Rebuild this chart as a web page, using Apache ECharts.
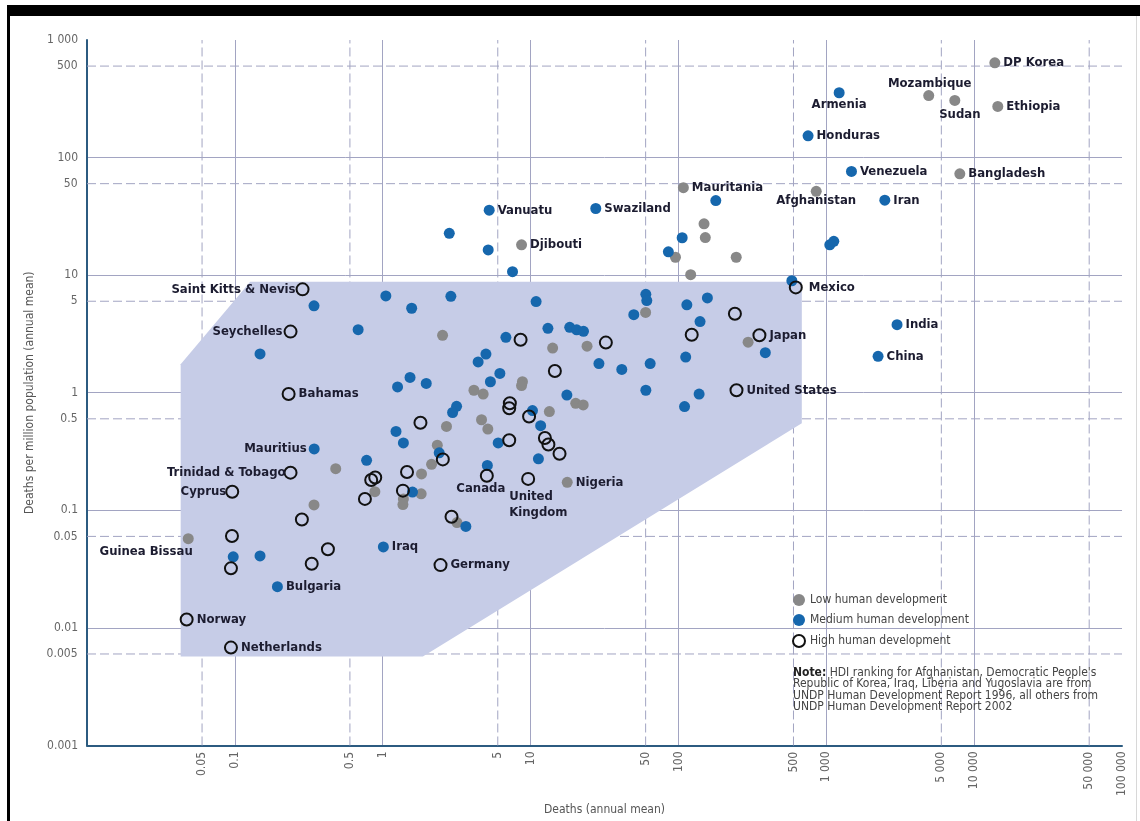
<!DOCTYPE html>
<html>
<head>
<meta charset="utf-8">
<title>Deaths per million population vs deaths</title>
<script src="https://cdn.jsdelivr.net/npm/echarts@6/dist/echarts.min.js"></script>
<style>
  html, body { margin: 0; padding: 0; background: #fff; }
  #chart { width: 1140px; height: 821px; }
  .frame { position: absolute; background: #000; pointer-events: none; }
</style>
</head>
<body>
<div id="chart"></div>
<!-- page frame of the scanned figure -->
<div class="frame" style="left:7px;top:5px;width:1133px;height:11px"></div>
<div class="frame" style="left:7px;top:5px;width:3px;height:816px"></div>
<div class="frame" style="left:1136px;top:16px;width:1px;height:805px;background:#d8d8d8"></div>
<script>
// ---- data: [deaths (annual mean), deaths per million population, label ('' = no label)]
var lowHD = [
  [13800, 640, 'DP Korea'], [4930, 337, 'Mozambique'], [7400, 306, 'Sudan'], [14450, 272, 'Ethiopia'],
  [8000, 72.8, 'Bangladesh'], [855, 51.7, 'Afghanistan'], [108, 55.5, 'Mauritania'], [8.69, 18.1, 'Djibouti'],
  [17.7, 0.173, 'Nigeria'], [0.0484, 0.0574, 'Guinea Bissau'],
  [149, 27.3, ''], [152, 20.9, ''], [95.5, 14.2, ''], [246, 14.2, ''], [121, 10.1, ''],
  [60, 4.82, ''], [296, 2.69, ''], [2.54, 3.08, ''], [14.1, 2.40, ''], [24.1, 2.49, ''],
  [8.81, 1.24, ''], [8.69, 1.15, ''], [4.14, 1.05, ''], [4.78, 0.975, ''], [20.2, 0.813, ''],
  [22.7, 0.788, ''], [13.4, 0.692, ''], [4.66, 0.589, ''], [5.14, 0.491, ''], [2.70, 0.517, ''],
  [2.34, 0.358, ''], [2.14, 0.246, ''], [1.83, 0.204, ''], [0.481, 0.226, ''], [0.885, 0.144, ''],
  [1.82, 0.138, ''], [1.38, 0.125, ''], [1.37, 0.112, ''], [0.343, 0.111, ''], [3.18, 0.0787, '']
];
var mediumHD = [
  [1222, 356, 'Armenia'], [753, 153, 'Honduras'], [1480, 76.2, 'Venezuela'], [2488, 43.4, 'Iran'],
  [3010, 3.79, 'India'], [2240, 2.04, 'China'], [5.25, 35.7, 'Vanuatu'], [27.6, 36.9, 'Swaziland'],
  [0.344, 0.333, 'Mauritius'], [1.01, 0.0488, 'Iraq'], [0.194, 0.0224, 'Bulgaria'],
  [1056, 18.1, ''], [1124, 19.4, ''], [585, 8.96, ''], [2.82, 22.7, ''], [5.17, 16.4, ''], [7.55, 10.7, ''],
  [179, 43.1, ''], [106, 20.8, ''], [85.5, 15.8, ''], [0.343, 5.48, ''], [1.05, 6.66, ''], [0.682, 3.44, ''],
  [0.148, 2.14, ''], [1.57, 5.23, ''], [2.89, 6.61, ''], [10.9, 5.96, ''], [6.81, 2.96, ''], [13.1, 3.53, ''],
  [18.4, 3.60, ''], [20.5, 3.43, ''], [22.8, 3.33, ''], [29.0, 1.77, ''], [41.4, 1.58, ''], [4.99, 2.13, ''],
  [4.42, 1.83, ''], [6.20, 1.46, ''], [5.35, 1.24, ''], [1.26, 1.12, ''], [1.53, 1.35, ''], [1.97, 1.20, ''],
  [17.6, 0.956, ''], [3.16, 0.767, ''], [2.97, 0.679, ''], [10.3, 0.705, ''], [11.7, 0.524, ''], [1.23, 0.469, ''],
  [1.38, 0.374, ''], [6.04, 0.374, ''], [11.3, 0.274, ''], [2.41, 0.308, ''], [5.10, 0.241, ''], [1.59, 0.143, ''],
  [0.778, 0.266, ''], [3.65, 0.0729, ''], [0.0975, 0.0402, ''], [0.148, 0.0409, ''], [60.2, 6.87, ''],
  [61.1, 6.08, ''], [49.9, 4.61, ''], [114, 5.59, ''], [157, 6.40, ''], [140, 4.03, ''], [112, 2.01, ''],
  [64.4, 1.77, ''], [60.2, 1.05, ''], [138, 0.975, ''], [110, 0.762, ''], [387, 2.19, '']
];
var highHD = [
  [622, 7.87, 'Mexico'], [353, 3.08, 'Japan'], [247, 1.05, 'United States'], [5.06, 0.197, 'Canada'],
  [9.63, 0.185, 'United Kingdom'], [2.46, 0.0342, 'Germany'], [0.287, 7.57, 'Saint Kitts & Nevis'],
  [0.238, 3.31, 'Seychelles'], [0.231, 0.975, 'Bahamas'], [0.238, 0.209, 'Trinidad & Tobago'],
  [0.096, 0.144, 'Cyprus'], [0.0472, 0.0118, 'Norway'], [0.0941, 0.0068, 'Netherlands'],
  [241, 4.69, ''], [123, 3.11, ''], [32.3, 2.67, ''], [8.56, 2.82, ''], [14.6, 1.53, ''], [7.24, 0.813, ''],
  [7.17, 0.738, ''], [9.77, 0.628, ''], [1.80, 0.556, ''], [12.5, 0.412, ''], [13.2, 0.363, ''], [15.7, 0.303, ''],
  [7.17, 0.394, ''], [2.55, 0.271, ''], [1.46, 0.212, ''], [1.37, 0.147, ''], [2.92, 0.0881, ''], [0.890, 0.190, ''],
  [0.836, 0.181, ''], [0.758, 0.125, ''], [0.284, 0.0835, ''], [0.0956, 0.0604, ''], [0.426, 0.0466, ''],
  [0.0941, 0.0321, ''], [0.331, 0.0351, '']
];
// shaded envelope, corners in data units
var shadedRegion = [[0.043, 1.75], [0.127, 8.8], [683, 8.8], [683, 0.55], [1.87, 0.0057], [0.043, 0.0057]];

// ---- axes
var xRange = [0.01, 100000];
var yRange = [0.001, 1000];
var xDecadeTicks = [0.1, 1, 10, 100, 1000, 10000, 100000];
var xDecadeLabels = ['0.1', '1', '10', '100', '1 000', '10 000', '100 000'];
var yDecadeTicks = [0.001, 0.01, 0.1, 1, 10, 100, 1000];
var yDecadeLabels = ['0.001', '0.01', '0.1', '1', '10', '100', '1 000'];
// the source draws its dashed "5" rules about 0.22 decade below each decade line (~6 x 10^k)
var xMidTicks = [0.06, 0.6, 6, 60, 600, 6000, 60000];
var xMidLabels = ['0.05', '0.5', '5', '50', '500', '5 000', '50 000'];
var yMidTicks = [0.006, 0.06, 0.6, 6, 60, 600];
var yMidLabels = ['0.005', '0.05', '0.5', '5', '50', '500'];

var seriesNames = ['Low human development', 'Medium human development', 'High human development'];
var noteLines = [
  "{b|Note:} HDI ranking for Afghanistan, Democratic People's",
  'Republic of Korea, Iraq, Liberia and Yugoslavia are from',
  'UNDP Human Development Report 1996, all others from',
  'UNDP Human Development Report 2002'
];

var FONT = "'DejaVu Sans Condensed', 'DejaVu Sans', sans-serif";
var gridColor = '#a2a4c2';
var axisColor = '#2c5b80';
var tickColor = '#666';

// where each country name sits relative to its dot (default: right)
var labelLayout = {
  'Mozambique': { position: 'top', distance: 0, offset: [1, 0] },
  'Sudan': { position: 'bottom', distance: 0, offset: [5, 2] },
  'Armenia': { position: 'bottom', distance: 0 },
  'Afghanistan': { position: 'bottom', distance: 0, offset: [0, -3] },
  'Mexico': { distance: 6 },
  'Canada': { position: 'bottom', offset: [-6, -4] },
  'United Kingdom': { position: 'bottom', align: 'left', offset: [-19, 0], lineHeight: 16, formatter: 'United\nKingdom' },
  'Guinea Bissau': { position: 'left', offset: [13, 13] },
  'Saint Kitts & Nevis': { position: 'left', distance: 0 },
  'Seychelles': { position: 'left', distance: 1 },
  'Mauritius': { position: 'left', distance: 2 },
  'Trinidad & Tobago': { position: 'left', distance: -2 },
  'Cyprus': { position: 'left', distance: -1 }
};

function tickText(values, labels) {
  return function (v) {
    for (var i = 0; i < values.length; i++) {
      if (Math.abs(values[i] - v) <= values[i] * 1e-6) return labels[i];
    }
    return '';
  };
}

function toItems(rows) {
  return rows.map(function (r) {
    var item = { value: [r[0], r[1]], name: r[2] };
    if (r[2]) {
      item.label = Object.assign({
        show: true, position: 'right', distance: 3, formatter: '{b}',
        color: '#1c1c30', fontSize: 13, fontWeight: 'bold', fontFamily: FONT
      }, labelLayout[r[2]] || {});
    }
    return item;
  });
}

var myChart = echarts.init(document.getElementById('chart'));

var series = [];

// dashed "5" rules
xMidTicks.forEach(function (v) {
  series.push({
    type: 'line', data: [[v, yRange[0]], [v, yRange[1]]], symbol: 'none', silent: true, z: 1,
    lineStyle: { color: gridColor, width: 1, type: [9, 4] }, animation: false
  });
});
yMidTicks.forEach(function (v) {
  series.push({
    type: 'line', data: [[xRange[0], v], [xRange[1], v]], symbol: 'none', silent: true, z: 1,
    lineStyle: { color: gridColor, width: 1, type: [9, 4] }, animation: false
  });
});

// tick labels for the "5" rules
series.push({
  type: 'scatter', silent: true, clip: false, z: 1, symbolSize: 1,
  itemStyle: { color: 'rgba(0,0,0,0)', opacity: 1 },
  data: xMidTicks.map(function (v, i) {
    return {
      value: [v, yRange[0]],
      label: { show: true, formatter: xMidLabels[i], position: 'bottom', distance: 6, rotate: 90,
        align: 'right', verticalAlign: 'middle', color: tickColor, fontSize: 12, fontFamily: FONT }
    };
  }).concat(yMidTicks.map(function (v, i) {
    return {
      value: [xRange[0], v],
      label: { show: true, formatter: yMidLabels[i], position: 'left', distance: 9,
        color: tickColor, fontSize: 12, fontFamily: FONT }
    };
  }))
});

// shaded envelope
series.push({
  type: 'custom', silent: true, z: 2, clip: false, data: [[1, 1]],
  renderItem: function (params, api) {
    return {
      type: 'polygon',
      shape: { points: shadedRegion.map(function (p) { return api.coord(p); }) },
      style: { fill: '#c6cce7' }
    };
  }
});

series.push({
  name: seriesNames[0], type: 'scatter', z: 3, symbolSize: 11,
  itemStyle: { color: '#888888', opacity: 1 }, data: toItems(lowHD)
});
series.push({
  name: seriesNames[1], type: 'scatter', z: 4, symbolSize: 11,
  itemStyle: { color: '#1667ad', opacity: 1 }, data: toItems(mediumHD)
});
series.push({
  name: seriesNames[2], type: 'scatter', z: 5, symbolSize: 12,
  itemStyle: { color: 'rgba(255,255,255,0)', borderColor: '#111', borderWidth: 2, opacity: 1 },
  data: toItems(highHD)
});

var option = {
  animation: false,
  title: {
    left: 788, top: 662,
    text: noteLines.join('\n'),
    textStyle: {
      fontSize: 12, fontWeight: 'normal', color: '#444', lineHeight: 11.5, fontFamily: FONT,
      rich: { b: { fontSize: 12, fontWeight: 'bold', color: '#222', lineHeight: 11.5, fontFamily: FONT } }
    }
  },
  legend: {
    data: seriesNames, orient: 'vertical', left: 787, top: 589,
    icon: 'circle', itemWidth: 12, itemHeight: 12, itemGap: 8,
    textStyle: { fontSize: 12, color: '#444', fontFamily: FONT }
  },
  grid: { left: 87, right: 18, top: 40, bottom: 69 },
  xAxis: {
    type: 'log', logBase: 10, min: xRange[0], max: xRange[1],
    name: 'Deaths (annual mean)', nameLocation: 'middle', nameGap: 41,
    nameTextStyle: { fontSize: 12, color: '#555', fontFamily: FONT },
    axisLine: { show: true, lineStyle: { color: axisColor, width: 2 } },
    axisTick: { show: false },
    axisLabel: { rotate: 90, margin: 6, color: tickColor, fontSize: 12, fontFamily: FONT,
      formatter: tickText(xDecadeTicks, xDecadeLabels) },
    splitLine: { show: true, showMaxLine: false, lineStyle: { color: gridColor, width: 1 } }
  },
  yAxis: {
    type: 'log', logBase: 10, min: yRange[0], max: yRange[1],
    name: 'Deaths per million population (annual mean)', nameLocation: 'middle', nameGap: 44,
    nameTextStyle: { fontSize: 12, color: '#555', fontFamily: FONT },
    axisLine: { show: true, lineStyle: { color: axisColor, width: 2 } },
    axisTick: { show: false },
    axisLabel: { margin: 9, color: tickColor, fontSize: 12, fontFamily: FONT,
      formatter: tickText(yDecadeTicks, yDecadeLabels) },
    splitLine: { show: true, showMaxLine: false, lineStyle: { color: gridColor, width: 1 } }
  },
  series: series
};

myChart.setOption(option);
</script>
</body>
</html>
